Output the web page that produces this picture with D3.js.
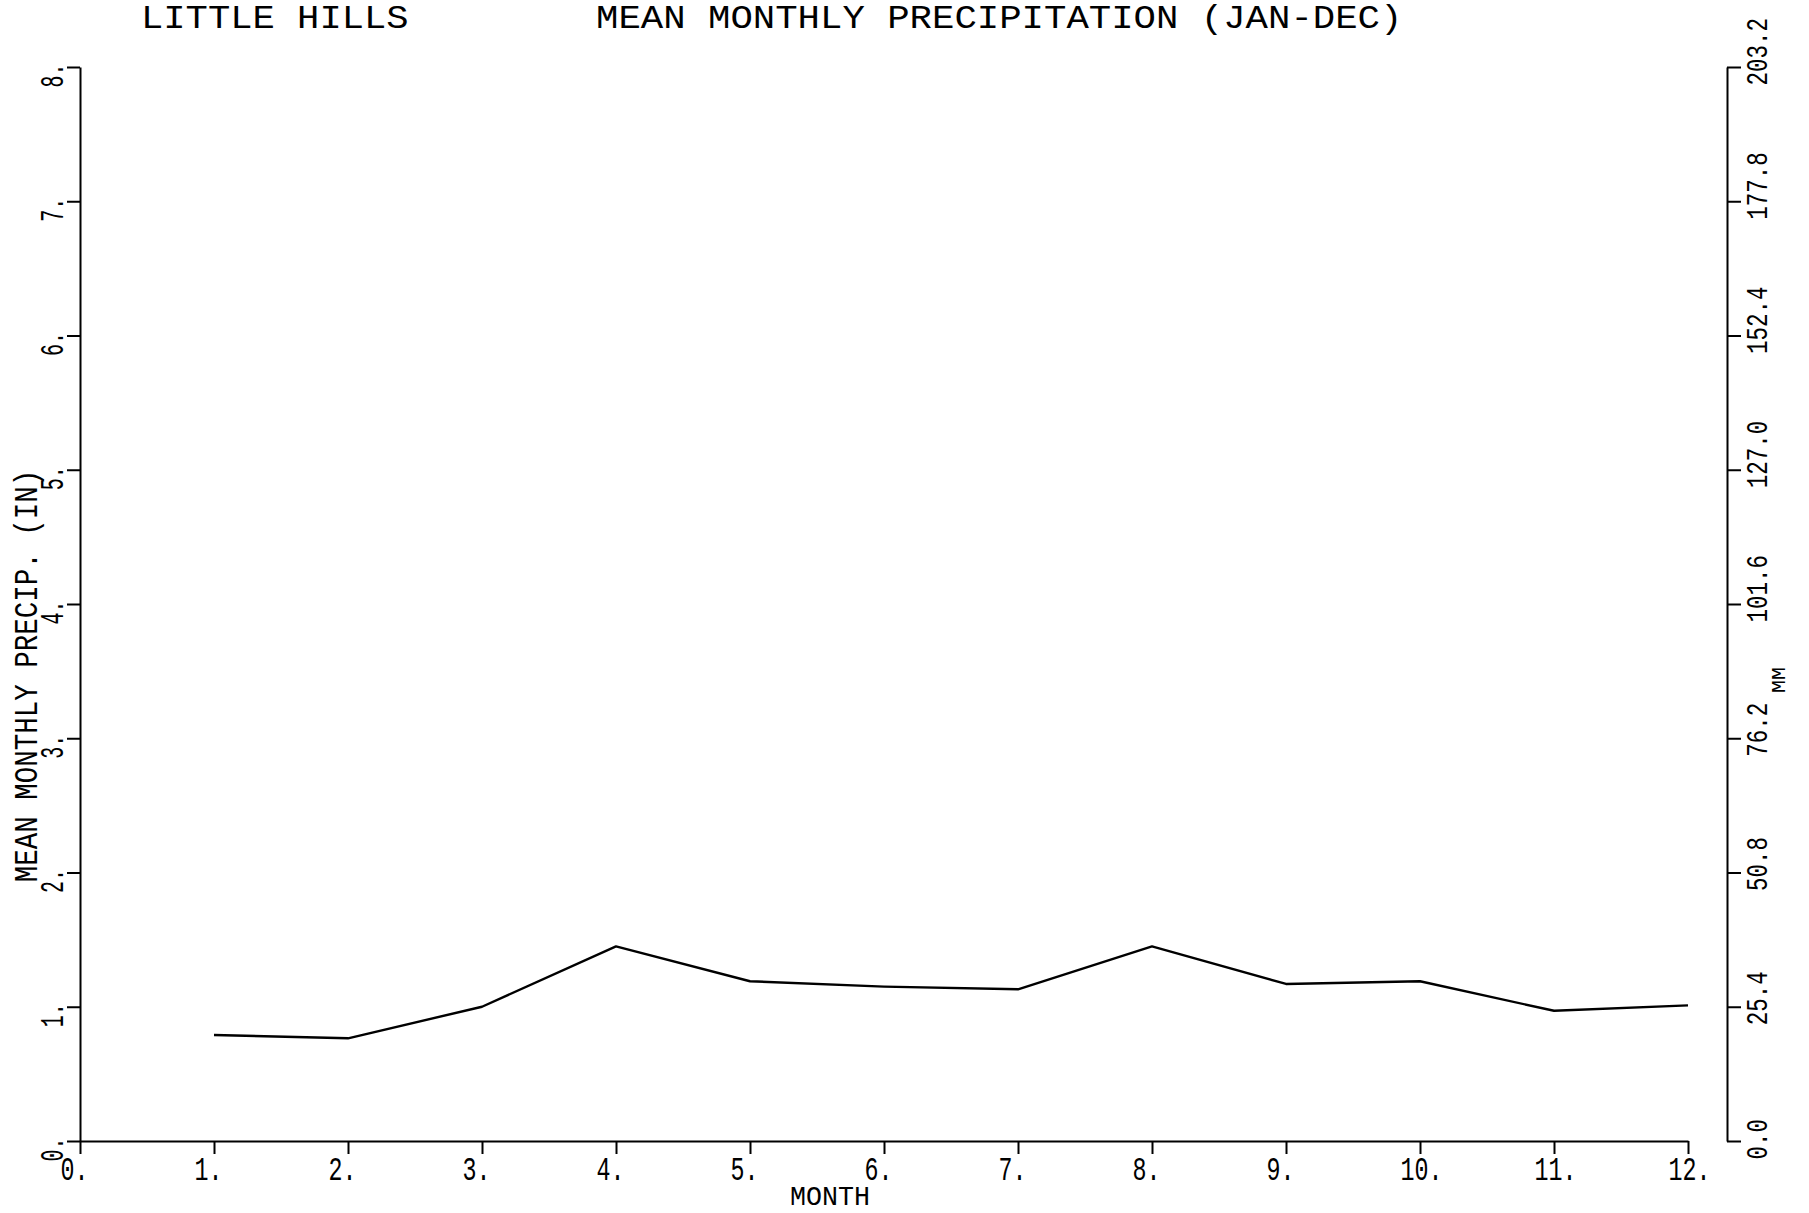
<!DOCTYPE html>
<html>
<head>
<meta charset="utf-8">
<script src="https://cdn.jsdelivr.net/npm/d3@7"></script>
<style>
  html, body { margin: 0; padding: 0; background: #fff; }
  svg { display: block; }
  text { font-family: "Liberation Mono", "DejaVu Sans Mono", monospace; fill: #000; }
</style>
</head>
<body>
<svg id="chart" width="1809" height="1213"></svg>
<script>
// ---- data ----
const months = [1, 2, 3, 4, 5, 6, 7, 8, 9, 10, 11, 12];
const precipIn = [0.79, 0.765, 1.0, 1.45, 1.19, 1.15, 1.13, 1.45, 1.17, 1.19, 0.97, 1.01];
const xTickValues = [0, 1, 2, 3, 4, 5, 6, 7, 8, 9, 10, 11, 12];
const xTickLabels = ["0.", "1.", "2.", "3.", "4.", "5.", "6.", "7.", "8.", "9.", "10.", "11.", "12."];
const yTickValues = [0, 1, 2, 3, 4, 5, 6, 7, 8];
const yTickLabels = ["0.", "1.", "2.", "3.", "4.", "5.", "6.", "7.", "8."];
const mmTickValues = [0, 25.4, 50.8, 76.2, 101.6, 127.0, 152.4, 177.8, 203.2];
const mmTickLabels = ["0.0", "25.4", "50.8", "76.2", "101.6", "127.0", "152.4", "177.8", "203.2"];
const stationTitle = "LITTLE HILLS";
const chartTitle = "MEAN MONTHLY PRECIPITATION (JAN-DEC)";
const xTitle = "MONTH";
const yTitle = "MEAN MONTHLY PRECIP. (IN)";
const y2Title = "MM";

// ---- layout ----
const svg = d3.select("#chart");
const plotLeft = 80, plotRight = 1688, plotTop = 67, plotBottom = 1141, rightAxisX = 1727;
const FONT = "Liberation Mono";
const ADV = 0.6; // monospace advance per em
const squeeze = (size, pitch) => pitch / (ADV * size);

const x = d3.scaleLinear().domain([0, 12]).range([plotLeft, plotRight]);
const y = d3.scaleLinear().domain([0, 8]).range([plotBottom, plotTop]);
const yMM = d3.scaleLinear().domain([0, 203.2]).range([plotBottom, plotTop]);

function styleAxis(g) {
  g.select(".domain").attr("stroke", "#000").attr("stroke-width", 2);
  g.selectAll(".tick line").attr("stroke", "#000").attr("stroke-width", 2);
  g.selectAll("text").attr("font-family", FONT).attr("fill", "#000");
}

// bottom axis
const gx = svg.append("g").attr("transform", `translate(0,${plotBottom})`)
  .call(d3.axisBottom(x).tickValues(xTickValues).tickSize(13).tickSizeOuter(0)
    .tickFormat((d, i) => xTickLabels[i]));
styleAxis(gx);
gx.selectAll("text")
  .attr("font-size", 34)
  .attr("text-anchor", "start")
  .attr("x", 0).attr("y", 0).attr("dy", 0)
  .attr("transform", `translate(-20,39) scale(${squeeze(34, 14)},1)`);

// left axis
const gy = svg.append("g").attr("transform", `translate(${plotLeft},0)`)
  .call(d3.axisLeft(y).tickValues(yTickValues).tickSize(13).tickSizeOuter(0)
    .tickFormat((d, i) => yTickLabels[i]));
styleAxis(gy);
gy.selectAll("text")
  .attr("font-size", 33)
  .attr("text-anchor", "start")
  .attr("x", 0).attr("y", 0).attr("dy", 0)
  .attr("transform", `translate(-17,20) rotate(-90) scale(${squeeze(33, 12)},1)`);

// right axis (mm)
const gr = svg.append("g").attr("transform", `translate(${rightAxisX},0)`)
  .call(d3.axisRight(yMM).tickValues(mmTickValues).tickSize(14).tickSizeOuter(0)
    .tickFormat((d, i) => mmTickLabels[i]));
styleAxis(gr);
gr.selectAll("text")
  .attr("font-size", 29)
  .attr("text-anchor", "start")
  .attr("x", 0).attr("y", 0).attr("dy", 0)
  .attr("transform", `translate(40,18) rotate(-90) scale(${squeeze(29, 13.5)},1)`);

// data line
const line = d3.line().x((d, i) => x(months[i])).y(d => y(d));
svg.append("path")
  .datum(precipIn)
  .attr("d", line)
  .attr("fill", "none")
  .attr("stroke", "#000")
  .attr("stroke-width", 2.4)
  .attr("stroke-linejoin", "round");

// titles
svg.append("text")
  .attr("x", 141).attr("y", 28)
  .attr("font-size", 33)
  .attr("textLength", stationTitle.length * 22.3)
  .attr("lengthAdjust", "spacingAndGlyphs")
  .text(stationTitle);

svg.append("text")
  .attr("x", 596).attr("y", 28)
  .attr("font-size", 33)
  .attr("textLength", chartTitle.length * 22.4)
  .attr("lengthAdjust", "spacingAndGlyphs")
  .text(chartTitle);

svg.append("text")
  .attr("font-size", 28)
  .attr("text-anchor", "middle")
  .attr("transform", `translate(830,1205) scale(${squeeze(28, 16)},1)`)
  .text(xTitle);

svg.append("text")
  .attr("font-size", 33)
  .attr("text-anchor", "middle")
  .attr("transform", `translate(37,676) rotate(-90) scale(${squeeze(33, 16.5)},1)`)
  .text(yTitle);

svg.append("text")
  .attr("font-size", 20)
  .attr("text-anchor", "middle")
  .attr("transform", `translate(1785,680) rotate(-90) scale(${squeeze(20, 13)},1)`)
  .text(y2Title);
</script>
</body>
</html>
